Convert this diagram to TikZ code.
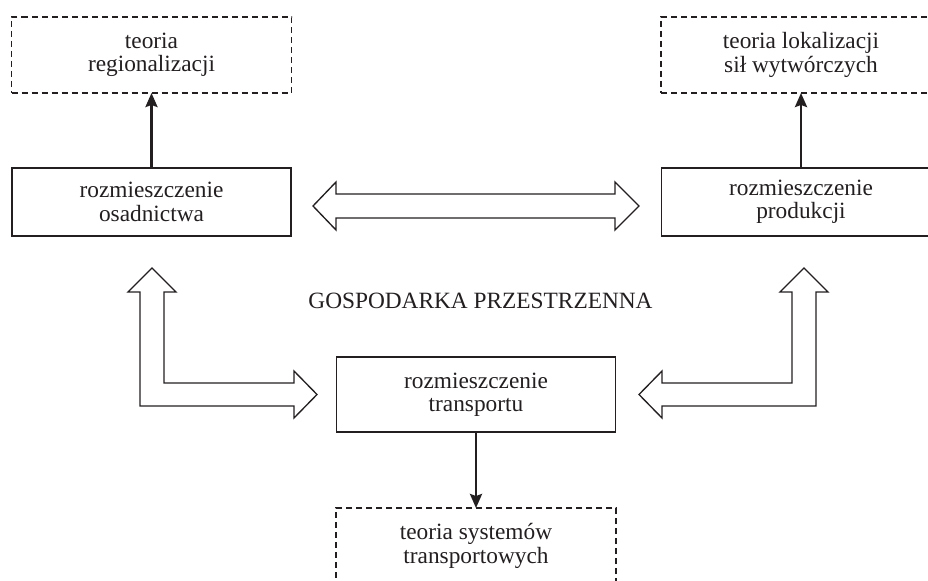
\documentclass[tikz,border=0pt]{standalone}
\usepackage{fontspec}
\setmainfont{Liberation Serif}
\usetikzlibrary{arrows.meta}
\definecolor{ink}{HTML}{231F20}
\begin{document}
\begin{tikzpicture}[x=0.75pt,y=-0.75pt,
  txt/.style={font=\fontsize{17.5}{17.5}\selectfont, text=ink, align=center, inner sep=0pt, outer sep=0pt},
  solidbox/.style={txt, draw=ink, line width=1.1pt, minimum width=209.5pt},
  dashbox/.style={txt, draw=ink, line width=1.1pt, dash pattern=on 4.5pt off 3pt, minimum width=210pt, minimum height=57pt},
  blackarrow/.style={draw=ink, line width=1.9pt, -{Stealth[length=10.5pt,width=9pt,inset=1.5pt]}},
  blockarrow/.style={draw=ink, line width=1pt, fill=white, line join=miter}
]
\useasboundingbox (0,0) rectangle (928,581);
\clip (0,0) rectangle (928,581);
\fill[white] (0,0) rectangle (928,581);

% boxes
\node[dashbox] (regio) at (151.5,55) {teoria\\regionalizacji};
\node[dashbox] (lok) at (801,55) {teoria lokalizacji\\sił wytwórczych};
\node[solidbox, minimum height=51pt] (osad) at (151.5,202) {rozmieszczenie\\osadnictwa};
\node[solidbox, minimum height=51pt] (prod) at (801,202) {rozmieszczenie\\produkcji};
\node[solidbox, minimum height=56.25pt] (trans) at (476,394.5) {rozmieszczenie\\transportu};
\node[dashbox] (sys) at (476,546) {teoria systemów\\transportowych};

\node[txt, anchor=base] (title) at (480.5,308) {GOSPODARKA PRZESTRZENNA};

% black arrows
\draw[blackarrow] (osad.north) -- (regio.south);
\draw[blackarrow] (prod.north) -- (lok.south);
\draw[blackarrow] (trans.south) -- (sys.north);

% block arrows
\draw[blockarrow] (313,206) -- (336,182) -- (336,194) -- (615,194) -- (615,182) -- (639,206)
  -- (615,230) -- (615,218) -- (336,218) -- (336,230) -- cycle;

\draw[blockarrow] (152,268) -- (176,292) -- (164,292) -- (164,383) -- (294,383) -- (294,371)
  -- (317,394.5) -- (294,418) -- (294,406) -- (140,406) -- (140,292) -- (128,292) -- cycle;

\draw[blockarrow] (804,268) -- (828,292) -- (816,292) -- (816,406) -- (662,406) -- (662,418)
  -- (639,394.5) -- (662,371) -- (662,383) -- (792,383) -- (792,292) -- (780,292) -- cycle;
\end{tikzpicture}
\end{document}
